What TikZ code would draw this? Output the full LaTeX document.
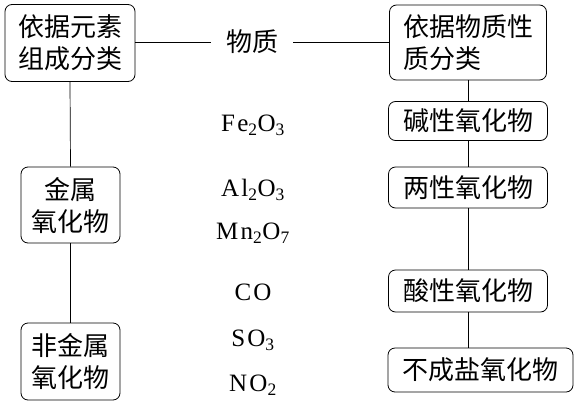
\documentclass[tikz,border=0pt]{standalone}
\usepackage{fontspec}
\setmainfont{Liberation Serif}
\newfontfamily\cjk{Noto Sans CJK SC}
\newfontfamily\chemfam[LetterSpace=9]{Liberation Serif}
\usepackage{tikz}
\usetikzlibrary{calc}
\newcommand{\chemfont}{\chemfam\fontsize{25}{30}\selectfont}

\begin{document}
\begin{tikzpicture}[x=1pt,y=-1pt,
		catbox/.style={rectangle,rounded corners=7pt,draw,line width=0.8pt,font=\cjk\fontsize{26}{32}\selectfont,inner sep=0pt,align=center},
		typebox/.style={catbox,minimum width=159pt,minimum height=40pt},
		formula/.style={inner sep=0pt,font=\chemfont},
		link/.style={line width=0.7pt}
		]
		\useasboundingbox (0,0) rectangle (575,407);
		% two ways of sorting
		\node (zuyuan) [catbox,minimum width=130pt,minimum height=77pt] at (70,43) {依据元素\\组成分类};
		\node (wuzhi) [inner xsep=15pt,inner ysep=0pt,font=\cjk\fontsize{26}{32}\selectfont] at (252,42) {物质};
		\node (xingzhi) [catbox,minimum width=157pt,minimum height=75pt,align=left] at (468,42.5) {依据物质性\\质分类};
		% by composition
		\node (jinshu) [catbox,minimum width=99pt,minimum height=76pt] at (70.5,205) {金属\\氧化物};
		\node (feijinshu) [catbox,minimum width=99pt,minimum height=77pt] at (70.5,361.5) {非金属\\氧化物};
		% by properties
		\node (jian) [typebox,minimum height=39pt] at (468,121) {碱性氧化物};
		\node (liangxing) [typebox,minimum height=41pt] at (468,187.5) {两性氧化物};
		\node (suan) [typebox,minimum height=42pt] at (468,291) {酸性氧化物};
		\node (buchengyan) [catbox,minimum width=185pt,minimum height=44pt] at (480.5,370) {不成盐氧化物};
		% the oxides
		\node (fe) [formula] at (253,125) {Fe\textsubscript{2}O\textsubscript{3}};
		\node (al) [formula] at (253,190) {Al\textsubscript{2}O\textsubscript{3}};
		\node (mn) [formula] at (253,233) {Mn\textsubscript{2}O\textsubscript{7}};
		\node (co) [formula] at (253,292) {CO};
		\node (so) [formula] at (253,340) {SO\textsubscript{3}};
		\node (no) [formula] at (253,385) {NO\textsubscript{2}};

		\draw[link] (zuyuan.east |- wuzhi) -- (wuzhi.west);
		\draw[link] (wuzhi.east) -- (xingzhi.west |- wuzhi);
		\draw[link] (zuyuan.south) -- (jinshu.north);
		\draw[link] (jinshu.south) -- (feijinshu.north);
		\draw[link] (xingzhi.south) -- (jian.north);
		\draw[link] (jian.south) -- (liangxing.north);
		\draw[link] (liangxing.south) -- (suan.north);
		\draw[link] (suan.south) -- (suan.south |- buchengyan.north);
\end{tikzpicture}
\end{document}
